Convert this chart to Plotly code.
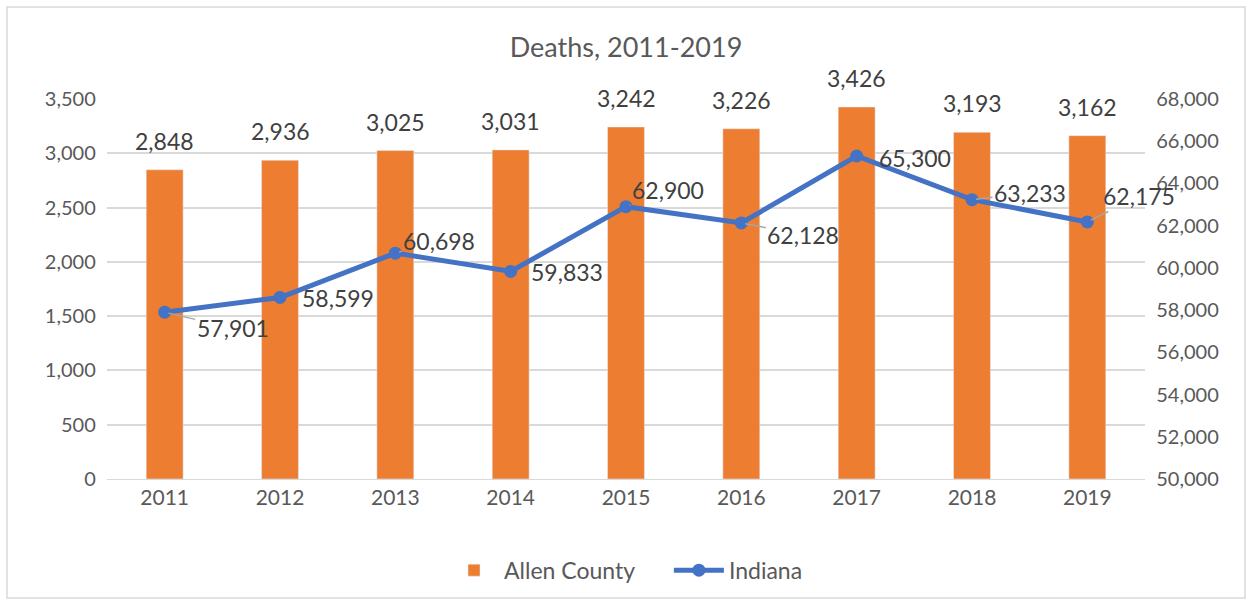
import plotly.graph_objects as go

years = ["2011", "2012", "2013", "2014", "2015", "2016", "2017", "2018", "2019"]
allen_county = [2848, 2936, 3025, 3031, 3242, 3226, 3426, 3193, 3162]
indiana = [57901, 58599, 60698, 59833, 62900, 62128, 65300, 63233, 62175]
# label offsets (px) for Indiana labels and whether a leader line is drawn
label_dx = [68, 58, 44, 56, 42, 62, 58, 58, 52]
label_dy = [16, 1, -12, 1, -17, 12, 2, -7, -26]
leader = [True, False, True, False, True, True, False, True, True]

FONT = "Lato"
GREY = "#595959"
DARK = "#404040"

fig = go.Figure()
fig.add_trace(go.Bar(
    x=years, y=allen_county, name="Allen County     ",
    marker_color="#ED7D31",
))
fig.add_trace(go.Scatter(
    x=years, y=indiana, name="Indiana", yaxis="y2",
    mode="lines+markers",
    line=dict(color="#4472C4", width=5),
    marker=dict(size=13, color="#4472C4"),
))

for i, v in enumerate(allen_county):
    fig.add_annotation(x=i, y=v, xref="x", yref="y", text=f"{v:,}",
                       showarrow=False, yanchor="bottom", yshift=13,
                       font=dict(size=23, color=DARK, family=FONT))

for i, (y, dx, dy, ld) in enumerate(zip(indiana, label_dx, label_dy, leader)):
    if ld:
        fig.add_annotation(x=i, y=y, xref="x", yref="y2", text=f"{y:,}",
                           showarrow=True, arrowhead=0, arrowwidth=1.5,
                           arrowcolor="#A6A6A6", ax=dx, ay=dy, standoff=4,
                           font=dict(size=23, color=DARK, family=FONT))
    else:
        fig.add_annotation(x=i, y=y, xref="x", yref="y2", text=f"{y:,}",
                           showarrow=False, xshift=dx, yshift=-dy,
                           font=dict(size=23, color=DARK, family=FONT))

fig.update_layout(
    width=1252, height=606,
    margin=dict(l=107, r=107, t=99, b=127),
    paper_bgcolor="white", plot_bgcolor="white",
    font=dict(family=FONT, color=GREY, size=20),
    title=dict(text="Deaths, 2011-2019", x=0.5, xanchor="center", y=0.922,
               yanchor="middle", font=dict(size=27, color=GREY, family=FONT)),
    bargap=0.68,
    showlegend=True,
    legend=dict(orientation="h", x=0.5, xanchor="center", y=-0.24, yanchor="middle",
                itemwidth=50,
                font=dict(size=23, color=GREY, family=FONT)),
    xaxis=dict(type="category", categoryorder="array", categoryarray=years,
               range=[-0.5, len(years) - 0.5], autorange=False,
               showgrid=False, showline=True, linecolor="#D9D9D9",
               ticks="", tickfont=dict(size=21, color=GREY)),
    yaxis=dict(range=[0, 3500], dtick=500, tickformat=",", showgrid=True,
               gridcolor="#D9D9D9", gridwidth=1.5, zeroline=False, ticks="",
               ticksuffix="  ", tickfont=dict(size=20, color=GREY)),
    yaxis2=dict(range=[50000, 68000], dtick=2000, tickformat=",", overlaying="y",
                side="right", showgrid=False, zeroline=False,
                tickprefix="  ", tickfont=dict(size=20, color=GREY)),
    shapes=[dict(type="rect", xref="paper", yref="paper", x0=-0.0963, x1=1.0963,
                 y0=-0.313, y1=1.242, line=dict(color="#D9D9D9", width=1.5))],
)

fig.write_html("out.html")
